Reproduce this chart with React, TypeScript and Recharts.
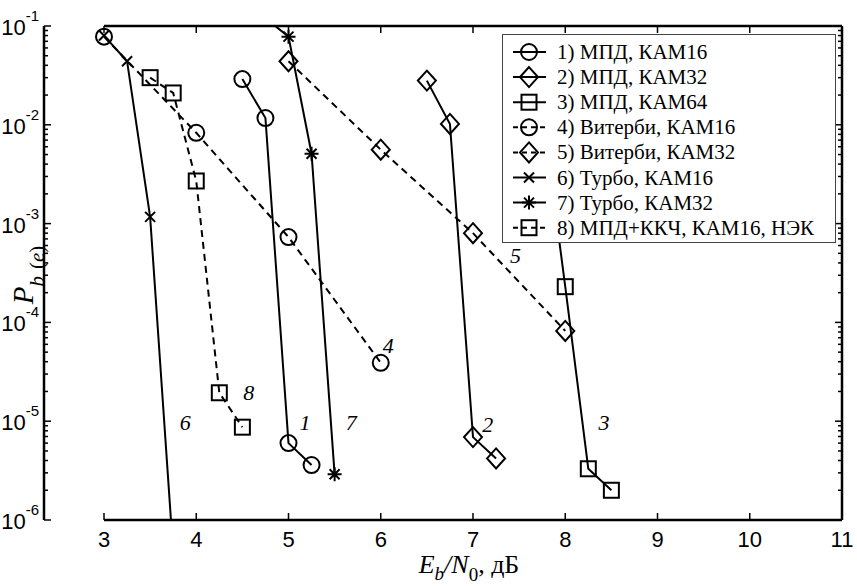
import React from "react";
import { LineChart, Line, XAxis, YAxis, ReferenceDot } from "recharts";

const SERIF = '"Liberation Serif", "Times New Roman", Times, serif';
const SANS = '"Liberation Sans", Arial, sans-serif';

const legendLabels = [
  "1) МПД, КАМ16",
  "2) МПД, КАМ32",
  "3) МПД, КАМ64",
  "4) Витерби, КАМ16",
  "5) Витерби, КАМ32",
  "6) Турбо, КАМ16",
  "7) Турбо, КАМ32",
  "8) МПД+ККЧ, КАМ16, НЭК",
];

const xTicks = [3, 4, 5, 6, 7, 8, 9, 10, 11];
const yTicks = [1e-6, 1e-5, 1e-4, 1e-3, 1e-2, 1e-1];
const yDomain: [number, number] = [1e-6, 1e-1];

// Eb/N0 (dB) and Pb(e) per curve
const ebn0_1 = [4.5, 4.75, 5, 5.25];
const pb_1 = [0.029, 0.0117, 6.0e-6, 3.6e-6];
const ebn0_2 = [6.5, 6.75, 7, 7.25];
const pb_2 = [0.028, 0.0102, 6.9e-6, 4.2e-6];
const ebn0_3 = [7.5, 7.75, 8, 8.25, 8.5];
const pb_3 = [0.03, 0.014, 2.3e-4, 3.3e-6, 2.0e-6];
const ebn0_4 = [3, 4, 5, 6];
const pb_4 = [0.078, 0.0083, 7.3e-4, 3.9e-5];
const ebn0_5 = [5, 6, 7, 8];
const pb_5 = [0.044, 5.6e-3, 8.0e-4, 8.2e-5];
const ebn0_6 = [3, 3.25, 3.5, 3.75];
const pb_6 = [0.08, 0.044, 1.17e-3, 4.7e-7];
const ebn0_7 = [4.75, 5, 5.25, 5.5];
const pb_7 = [0.12, 0.078, 5.1e-3, 2.9e-6];
const ebn0_8 = [3.5, 3.75, 4, 4.25, 4.5];
const pb_8 = [0.03, 0.021, 2.7e-3, 1.94e-5, 8.7e-6];

// curve number tags placed next to the curves
const tagText = ["1", "7", "4", "2", "5", "3", "6", "8"];
const tagX = [5.18, 5.68, 6.08, 7.16, 7.46, 8.42, 3.88, 4.57];
const tagY = [9.6e-6, 9.8e-6, 5.9e-5, 9.2e-6, 4.8e-4, 9.8e-6, 9.6e-6, 1.93e-5];

type Pt = { x: number; y: number };
const toPoints = (xs: number[], ys: number[]): Pt[] => xs.map((x, i) => ({ x, y: ys[i] }));

const series = [
  { xs: ebn0_1, ys: pb_1, marker: "circle", dashed: false },
  { xs: ebn0_2, ys: pb_2, marker: "diamond", dashed: false },
  { xs: ebn0_3, ys: pb_3, marker: "square", dashed: false },
  { xs: ebn0_4, ys: pb_4, marker: "circle", dashed: true },
  { xs: ebn0_5, ys: pb_5, marker: "diamond", dashed: true },
  { xs: ebn0_6, ys: pb_6, marker: "cross", dashed: false },
  { xs: ebn0_7, ys: pb_7, marker: "star", dashed: false },
  { xs: ebn0_8, ys: pb_8, marker: "square", dashed: true },
].map((s, i) => ({ ...s, name: legendLabels[i], points: toPoints(s.xs, s.ys) }));

const inView = (p: Pt) => p.y >= yDomain[0] && p.y <= yDomain[1];

const minorTicks: number[] = [];
for (let k = -6; k <= -2; k++) {
  for (let m = 2; m <= 9; m++) minorTicks.push(m * Math.pow(10, k));
}
const allYTicks = [...yTicks, ...minorTicks].sort((a, b) => a - b);
const isMajor = (v: number) => {
  const l = Math.log10(v);
  return Math.abs(l - Math.round(l)) < 1e-6;
};

const DASH = "7 5";
const axisStyle = { stroke: "#000", strokeWidth: 2.5 };

function Marker({ kind, cx, cy }: { kind: string; cx: number; cy: number }) {
  const s = { fill: "none", stroke: "#000", strokeWidth: 2 };
  switch (kind) {
    case "circle":
      return <circle cx={cx} cy={cy} r={8} {...s} />;
    case "diamond":
      return <path d={`M${cx},${cy - 10}L${cx + 9},${cy}L${cx},${cy + 10}L${cx - 9},${cy}Z`} {...s} />;
    case "square":
      return <rect x={cx - 7.5} y={cy - 7.5} width={15} height={15} {...s} />;
    case "cross":
      return <path d={`M${cx - 5},${cy - 5}L${cx + 5},${cy + 5}M${cx - 5},${cy + 5}L${cx + 5},${cy - 5}`} {...s} />;
    case "star":
      return (
        <path
          d={`M${cx},${cy - 7}L${cx},${cy + 7}M${cx - 7},${cy}L${cx + 7},${cy}M${cx - 5},${cy - 5}L${cx + 5},${cy + 5}M${cx - 5},${cy + 5}L${cx + 5},${cy - 5}`}
          {...s}
        />
      );
    default:
      return null;
  }
}

function BottomTick(props: any) {
  const { x, y, payload } = props;
  return (
    <g>
      <line x1={x} x2={x} y1={y} y2={y - 7} stroke="#000" strokeWidth={1.5} />
      <text x={x} y={y + 27} textAnchor="middle" fontFamily={SANS} fontSize={22} fill="#000">
        {payload.value}
      </text>
    </g>
  );
}

function TopTick(props: any) {
  const { x, y } = props;
  return <line x1={x} x2={x} y1={y} y2={y + 7} stroke="#000" strokeWidth={1.5} />;
}

function LeftTick(props: any) {
  const { x, y, payload } = props;
  const major = isMajor(payload.value);
  const exp = Math.round(Math.log10(payload.value));
  return (
    <g>
      <line x1={x} x2={x + (major ? 7 : 4)} y1={y} y2={y} stroke="#000" strokeWidth={1.5} />
      {major && (
        <text x={x - 5} y={y + 9} textAnchor="end" fontFamily={SANS} fontSize={22} fill="#000">
          10
          <tspan fontSize={15} dy={-14}>
            {String(exp)}
          </tspan>
        </text>
      )}
    </g>
  );
}

function RightTick(props: any) {
  const { x, y, payload } = props;
  const major = isMajor(payload.value);
  return <line x1={x} x2={x - (major ? 7 : 4)} y1={y} y2={y} stroke="#000" strokeWidth={1.5} />;
}

function XTitle() {
  return (
    <text x={469} y={573} textAnchor="middle" fontFamily={SERIF} fontSize={26} fill="#000">
      <tspan fontStyle="italic">E</tspan>
      <tspan fontStyle="italic" fontSize={19} dy={7}>b</tspan>
      <tspan fontStyle="italic" dy={-7}>/N</tspan>
      <tspan fontSize={19} dy={8}>0</tspan>
      <tspan dy={-8}>, дБ</tspan>
    </text>
  );
}

function YTitle() {
  return (
    <text transform="translate(33,275) rotate(-90)" textAnchor="middle" fontFamily={SERIF} fill="#000">
      <tspan fontStyle="italic" fontSize={29}>P</tspan>
      <tspan fontSize={21} dy={11}>
        <tspan fontStyle="italic">b</tspan>
        <tspan dx={7}>(</tspan>
        <tspan fontStyle="italic">e</tspan>
        <tspan>)</tspan>
      </tspan>
    </text>
  );
}

function LegendBox() {
  return (
    <svg
      width={334}
      height={209}
      style={{ position: "absolute", left: 502, top: 34, zIndex: 2, display: "block" }}
    >
      <rect x={0.5} y={0.5} width={333} height={208} fill="#fff" stroke="#444" strokeWidth={1} />
      {series.map((s, i) => {
        const cy = 18 + i * 25.1;
        return (
          <g key={s.name}>
            <line
              x1={11}
              x2={44}
              y1={cy}
              y2={cy}
              stroke="#000"
              strokeWidth={2}
              strokeDasharray={s.dashed ? "5 4" : undefined}
            />
            <Marker kind={s.marker} cx={27} cy={cy} />
            <text x={55} y={cy + 7} fontFamily={SERIF} fontSize={21} fill="#000">
              {s.name}
            </text>
          </g>
        );
      })}
    </svg>
  );
}

export default function App() {
  return (
    <div style={{ position: "absolute", left: 0, top: 0, width: 857, height: 586, background: "#fff" }}>
      <LineChart width={857} height={586} margin={{ top: 0, right: 0, bottom: 0, left: 0 }}>
        <XAxis
          xAxisId="b"
          type="number"
          dataKey="x"
          domain={[3, 11]}
          ticks={xTicks}
          interval={0}
          orientation="bottom"
          height={66}
          tickSize={0}
          tickMargin={0}
          tickLine={false}
          axisLine={axisStyle}
          tick={BottomTick}
          label={XTitle}
        />
        <XAxis
          xAxisId="t"
          type="number"
          dataKey="x"
          domain={[3, 11]}
          ticks={xTicks}
          interval={0}
          orientation="top"
          height={26}
          tickSize={0}
          tickMargin={0}
          tickLine={false}
          axisLine={axisStyle}
          tick={TopTick}
          allowDataOverflow
        />
        <YAxis
          yAxisId="y"
          scale="log"
          domain={yDomain}
          allowDataOverflow
          ticks={allYTicks}
          interval={0}
          orientation="left"
          width={104}
          tickSize={0}
          tickMargin={0}
          tickLine={false}
          axisLine={axisStyle}
          tick={LeftTick}
          label={YTitle}
        />
        <YAxis
          yAxisId="r"
          scale="log"
          domain={yDomain}
          allowDataOverflow
          ticks={allYTicks}
          interval={0}
          orientation="right"
          width={15}
          tickSize={0}
          tickMargin={0}
          tickLine={false}
          axisLine={axisStyle}
          tick={RightTick}
        />
        <YAxis yAxisId="m" scale="log" domain={yDomain} hide />
        {series.map((s, i) => (
          <Line
            key={`line-${i}`}
            xAxisId="b"
            yAxisId="y"
            data={s.points}
            dataKey="y"
            type="linear"
            stroke="#000"
            strokeWidth={2}
            strokeDasharray={s.dashed ? DASH : undefined}
            dot={false}
            activeDot={false}
            legendType="none"
            isAnimationActive={false}
          />
        ))}
        {series.map((s, i) => (
          <Line
            key={`mark-${i}`}
            xAxisId="b"
            yAxisId="m"
            data={s.points.filter(inView)}
            dataKey="y"
            stroke="none"
            dot={(p: any) => <Marker key={`m-${i}-${p.index}`} kind={s.marker} cx={p.cx} cy={p.cy} />}
            activeDot={false}
            legendType="none"
            isAnimationActive={false}
          />
        ))}
        {tagText.map((t, i) => (
          <ReferenceDot
            key={`tag-${i}`}
            xAxisId="b"
            yAxisId="m"
            x={tagX[i]}
            y={tagY[i]}
            r={0}
            shape={(p: any) => (
              <text
                x={p.cx}
                y={p.cy}
                textAnchor="middle"
                dominantBaseline="central"
                fontFamily={SERIF}
                fontStyle="italic"
                fontSize={22}
                fill="#000"
              >
                {t}
              </text>
            )}
          />
        ))}
      </LineChart>
      <LegendBox />
    </div>
  );
}
